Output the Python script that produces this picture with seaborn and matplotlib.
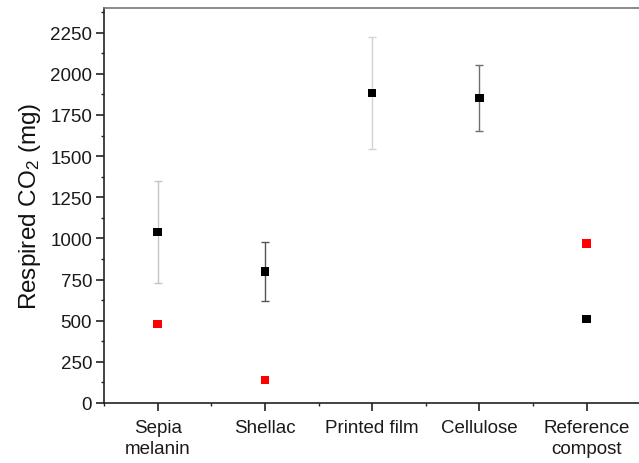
import matplotlib
matplotlib.use("Agg")
import matplotlib.pyplot as plt
import seaborn as sns
import pandas as pd
import numpy as np
from matplotlib.ticker import MultipleLocator, FixedLocator

categories = ["Sepia\nmelanin", "Shellac", "Printed film", "Cellulose", "Reference\ncompost"]
black_values = [1040, 800, 1885, 1855, 510]
black_errors = [310, 178, 340, 200, 0]
red_values = [478, 140, None, None, 970]
err_colors = ["#c4c4c4", "#555555", "#d4d4d4", "#707070", "#000000"]

sns.set_theme(style="white")
plt.rcParams['font.family'] = ['Liberation Sans', 'DejaVu Sans']
plt.rcParams['mathtext.fontset'] = 'custom'
plt.rcParams['mathtext.rm'] = 'Liberation Sans'
plt.rcParams['mathtext.it'] = 'Liberation Sans:italic'

fig = plt.figure(figsize=(6.39, 4.64), dpi=100)
ax = fig.add_axes([104/639, 60/464, 1 - 104/639 + 0.002, (404-9)/464])

pos = np.arange(len(categories))
df_black = pd.DataFrame({"x": pos, "y": black_values})
df_red = pd.DataFrame({"x": pos, "y": red_values}).dropna()

for i in range(len(categories)):
    if black_errors[i] > 0:
        ax.errorbar(pos[i], black_values[i], yerr=black_errors[i], fmt='none',
                    ecolor=err_colors[i], elinewidth=1, capsize=3, capthick=1, zorder=1)

sns.scatterplot(data=df_black, x="x", y="y", marker="s", color="black", s=36,
                edgecolor="none", ax=ax, zorder=3)
sns.scatterplot(data=df_red, x="x", y="y", marker="s", color="#ff0000", s=36,
                edgecolor="none", ax=ax, zorder=3)

ax.set_xlim(-0.5, 4.5)
ax.set_ylim(0, 2400)
ax.set_xticks(pos)
ax.set_xticklabels(categories, fontsize=13.5, color="#1a1a1a", linespacing=1.3)
ax.xaxis.set_minor_locator(FixedLocator(np.arange(-0.5, 4.6, 1.0)))
ax.yaxis.set_major_locator(MultipleLocator(250))
ax.yaxis.set_minor_locator(MultipleLocator(125))
ax.tick_params(axis='y', labelsize=13.5, labelcolor="#1a1a1a", pad=3)
ax.tick_params(axis='x', pad=6)
ax.tick_params(which='major', direction='out', length=5.5, width=1.2, color="#222222",
               bottom=True, left=True)
ax.tick_params(which='minor', direction='out', length=2.5, width=1, color="#222222",
               bottom=True, left=True)
ax.set_xlabel("")
ax.set_ylabel("Respired CO$_2$ (mg)", fontsize=17.5, color="#111111", labelpad=5)

for s in ['left', 'bottom']:
    ax.spines[s].set_color("#222222")
    ax.spines[s].set_linewidth(1.2)
ax.spines['top'].set_color("#777777")
ax.spines['top'].set_linewidth(1.2)
ax.spines['right'].set_visible(False)

fig.savefig("out.png", dpi=100)
